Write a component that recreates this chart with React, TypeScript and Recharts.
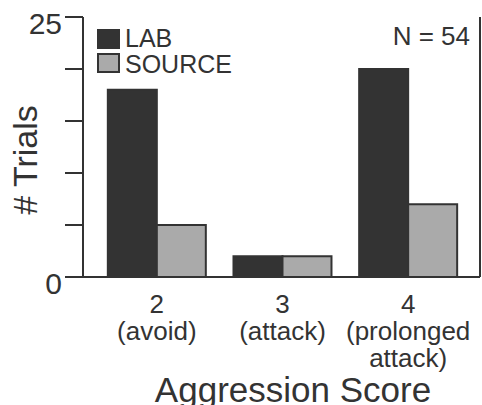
import { BarChart, Bar, XAxis, YAxis, Label } from 'recharts';

const categories = ['2', '3', '4'];
const categoryNotes = [['(avoid)'], ['(attack)'], ['(prolonged', 'attack)']];
const labValues = [18, 2, 20];
const sourceValues = [5, 2, 7];
const yTicks = [0, 5, 10, 15, 20, 25];
const yTickLabels: Record<number, string> = { 0: '0', 25: '25' };
const seriesNames = ['LAB', 'SOURCE'];
const totalN = 54;

const INK = '#333333';
const LAB_FILL = '#333333';
const SOURCE_FILL = '#aaaaaa';
const FONT = '"Liberation Sans", Arial, Helvetica, sans-serif';

const data = categories.map((score, i) => ({
  score,
  lab: labValues[i],
  source: sourceValues[i],
}));

function XTick(props: any) {
  const { x, y, payload, index } = props;
  const lines = [payload.value, ...(categoryNotes[index] || [])];
  return (
    <g>
      {lines.map((line: string, i: number) => (
        <text
          key={i}
          x={x}
          y={y + 36 + i * 27}
          textAnchor="middle"
          fontSize={26}
          fontFamily={FONT}
          fill={INK}
        >
          {line}
        </text>
      ))}
    </g>
  );
}

function YTick(props: any) {
  const { x, y, payload } = props;
  const label = yTickLabels[payload.value];
  if (!label) return <g />;
  return (
    <text x={x} y={y + 17} textAnchor="end" fontSize={30} fontFamily={FONT} fill={INK}>
      {label}
    </text>
  );
}

function YTitle() {
  return (
    <text
      transform="translate(37,160) rotate(-90)"
      textAnchor="middle"
      fontSize={34}
      fontFamily={FONT}
      fill={INK}
    >
      # Trials
    </text>
  );
}

function XTitle() {
  return (
    <text x={293} y={402} textAnchor="middle" fontSize={35} fontFamily={FONT} fill={INK}>
      Aggression Score
    </text>
  );
}

export default function App() {
  const fills = [LAB_FILL, SOURCE_FILL];
  return (
    <div style={{ position: 'absolute', left: 0, top: 0, width: 482, height: 405, background: '#fff' }}>
      <BarChart
        width={482}
        height={405}
        data={data}
        margin={{ top: 17, right: 0, left: 0, bottom: 0 }}
        barCategoryGap="11%"
        barGap={0}
      >
        <XAxis
          dataKey="score"
          height={128}
          tick={<XTick />}
          tickLine={false}
          tickSize={0}
          tickMargin={0}
          padding={{ left: 11, right: 9 }}
          axisLine={{ stroke: INK, strokeWidth: 2 }}
          interval={0}
        >
          <Label content={<XTitle />} />
        </XAxis>
        <XAxis
          xAxisId="top"
          dataKey="score"
          orientation="top"
          height={0}
          tick={false}
          tickLine={false}
          axisLine={{ stroke: INK, strokeWidth: 2 }}
        />
        <YAxis
          yAxisId="left"
          type="number"
          domain={[0, 25]}
          ticks={yTicks}
          width={83}
          tickSize={18}
          tickMargin={3}
          tick={<YTick />}
          tickLine={{ stroke: INK, strokeWidth: 2 }}
          axisLine={{ stroke: INK, strokeWidth: 2 }}
          interval={0}
        >
          <Label content={<YTitle />} />
        </YAxis>
        <YAxis
          yAxisId="right"
          orientation="right"
          type="number"
          domain={[0, 25]}
          width={2}
          tick={false}
          tickLine={false}
          axisLine={{ stroke: INK, strokeWidth: 2 }}
        />
        <Bar
          yAxisId="left"
          dataKey="lab"
          name={seriesNames[0]}
          fill={LAB_FILL}
          stroke={INK}
          strokeWidth={2}
          isAnimationActive={false}
        />
        <Bar
          yAxisId="left"
          dataKey="source"
          name={seriesNames[1]}
          fill={SOURCE_FILL}
          stroke={INK}
          strokeWidth={2}
          isAnimationActive={false}
        />
      </BarChart>
      <svg
        width={482}
        height={405}
        style={{ position: 'absolute', left: 0, top: 0, pointerEvents: 'none' }}
      >
        {seriesNames.map((name, i) => (
          <g key={name}>
            <rect x={98} y={30 + i * 24} width={21} height={18} fill={fills[i]} stroke={INK} strokeWidth={2} />
            <text x={125} y={47 + i * 25.5} fontSize={25} fontFamily={FONT} fill={INK}>
              {name}
            </text>
          </g>
        ))}
        <text x={470} y={45} textAnchor="end" fontSize={26} fontFamily={FONT} fill={INK}>
          N = {totalN}
        </text>
      </svg>
    </div>
  );
}
